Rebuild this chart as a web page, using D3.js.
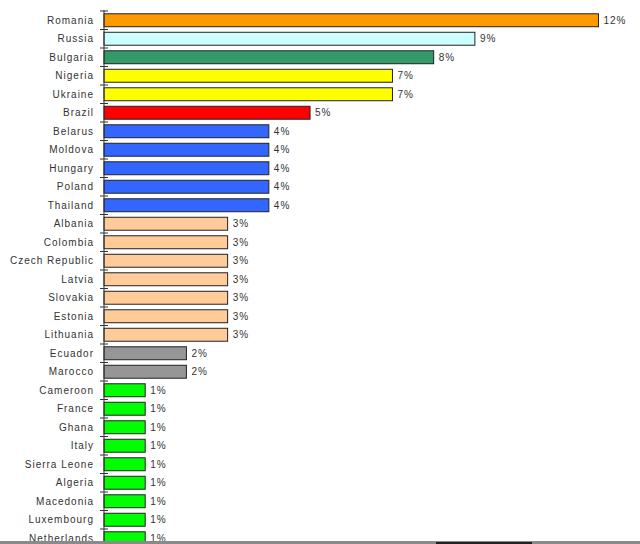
<!DOCTYPE html>
<html><head><meta charset="utf-8">
<script src="https://cdn.jsdelivr.net/npm/d3@7"></script>
<style>
html,body{margin:0;padding:0;background:#fff;}
svg{display:block;}
</style></head>
<body>
<svg id="chart" width="640" height="544"></svg>
<script>
const categories = ["Romania","Russia","Bulgaria","Nigeria","Ukraine","Brazil","Belarus","Moldova","Hungary","Poland","Thailand","Albania","Colombia","Czech Republic","Latvia","Slovakia","Estonia","Lithuania","Ecuador","Marocco","Cameroon","France","Ghana","Italy","Sierra Leone","Algeria","Macedonia","Luxembourg","Netherlands"];
const values = [12,9,8,7,7,5,4,4,4,4,4,3,3,3,3,3,3,3,2,2,1,1,1,1,1,1,1,1,1];
const colors = ["#FF9900","#CCFFFF","#339966","#FFFF00","#FFFF00","#FF0000","#3366FF","#3366FF","#3366FF","#3366FF","#3366FF","#FFCC99","#FFCC99","#FFCC99","#FFCC99","#FFCC99","#FFCC99","#FFCC99","#969696","#969696","#00FF00","#00FF00","#00FF00","#00FF00","#00FF00","#00FF00","#00FF00","#00FF00","#00FF00"];

(function(){
const svg = d3.select("#chart");
const x0 = 104;
const step = 18.5;
const yTop = 11;
const x = d3.scaleLinear().domain([0, 12]).range([x0, 598.5]);
const y = d3.scaleBand().domain(categories).range([yTop, yTop + step*categories.length]).paddingInner(0.3).paddingOuter(0.15);

// bars
svg.append("g").selectAll("rect").data(categories).join("rect")
  .attr("x", x(0))
  .attr("y", d => y(d))
  .attr("width", (d,i) => x(values[i]) - x(0))
  .attr("height", y.bandwidth())
  .attr("fill", (d,i) => colors[i])
  .attr("stroke", "#222")
  .attr("stroke-width", 1);

// axis line
svg.append("line").attr("x1", x0).attr("x2", x0).attr("y1", yTop-1).attr("y2", 544).attr("stroke","#333").attr("stroke-width",1);
// ticks between categories
const bounds = d3.range(categories.length+1).map(i => yTop + i*step);
svg.append("g").selectAll("line").data(bounds).join("line")
  .attr("x1", x0-4).attr("x2", x0+4)
  .attr("y1", d => d).attr("y2", d => d)
  .attr("stroke","#333").attr("stroke-width",1);

// category labels
svg.append("g").selectAll("text").data(categories).join("text")
  .attr("x", 94)
  .attr("y", d => y(d) + y.bandwidth()/2)
  .attr("dy", "0.36em")
  .attr("text-anchor","end")
  .attr("font-family","'Liberation Sans', Arial, sans-serif")
  .attr("font-size", 10)
  .attr("letter-spacing", "1px")
  .attr("fill","#333")
  .text(d => d);

// value labels
svg.append("g").selectAll("text").data(categories).join("text")
  .attr("x", (d,i) => x(values[i]) + 5)
  .attr("y", d => y(d) + y.bandwidth()/2)
  .attr("dy", "0.36em")
  .attr("font-family","'Liberation Sans', Arial, sans-serif")
  .attr("font-size", 10)
  .attr("letter-spacing", "1px")
  .attr("fill","#333")
  .text((d,i) => values[i] + "%");

// bottom window strip
svg.append("rect").attr("x",0).attr("y",541).attr("width",640).attr("height",3).attr("fill","#8a8a8a");
svg.append("rect").attr("x",436).attr("y",542).attr("width",96).attr("height",2).attr("fill","#222");
})();
</script>
</body></html>
